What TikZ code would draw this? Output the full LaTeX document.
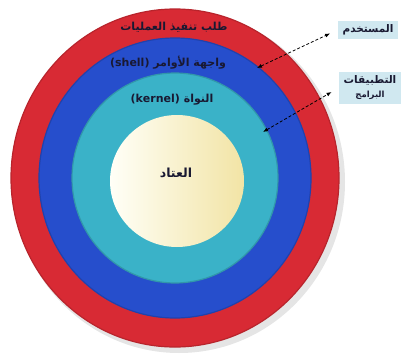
\documentclass[tikz,border=0pt]{standalone}
\usepackage{fontspec}
\usepackage{tikz}
\usetikzlibrary{arrows.meta}
\TeXXeTstate=1
\newfontfamily\arabicfont[Script=Arabic]{DejaVu Sans}

\definecolor{ringred}{RGB}{216,42,52}
\definecolor{ringblue}{RGB}{38,78,204}
\definecolor{ringcyan}{RGB}{58,178,200}
\definecolor{hwcream}{RGB}{242,228,165}
\definecolor{boxblue}{RGB}{208,232,240}
\definecolor{inkdark}{RGB}{25,25,50}

\begin{document}
\begin{tikzpicture}[x=1pt,y=-1pt,
    ring/.style={draw=#1!85!black,line width=1.2pt,fill=#1},
    lbl/.style={font=\arabicfont\bfseries\fontsize{11}{13}\selectfont,text=inkdark},
    box/.style={fill=boxblue,inner xsep=5pt,inner ysep=4pt,font=\arabicfont\bfseries\fontsize{10.5}{12}\selectfont,text=inkdark,align=center},
    arr/.style={{Latex[length=5pt,width=4pt]}-{Latex[length=5pt,width=4pt]},densely dashed,line width=0.8pt,shorten >=8pt}]
    \useasboundingbox (0,0) rectangle (401,353);

    % rings, from outside in
    \fill[black!10] (179,182) ellipse [x radius=166, y radius=171];
    \filldraw[ring=ringred] (175,178) ellipse [x radius=164, y radius=169];
    \filldraw[ring=ringblue] (175,178) ellipse [x radius=136, y radius=140];
    \filldraw[ring=ringcyan] (175,178) ellipse [x radius=103, y radius=105];
    \shade[left color=white!97!yellow,right color=hwcream] (177,181) ellipse [x radius=67, y radius=66];

    \node[lbl] (req) at (174,27) {\beginR طلب تنفيذ العمليات\endR};
    \node[lbl] (shell) at (168,63) {\beginR واجهة الأوامر \beginL(shell)\endL\endR};
    \node[lbl] (kernel) at (172,100) {\beginR النواة \beginL(kernel)\endL\endR};
    \node[lbl,font=\arabicfont\bfseries\fontsize{12.5}{14}\selectfont] (hw) at (176,173) {\beginR العتاد\endR};

    \node[box] (user) at (368,30) {\beginR المستخدم\endR};
    \node[box] (apps) at (370,88) {\beginR التطبيقات\endR\\[2pt]{\fontsize{8.5}{10}\selectfont\beginR البرامج\endR}};

    \coordinate (shellpt) at (257,68);
    \coordinate (kernelpt) at (263,132);
    \draw[arr] (shellpt) -- (user.west);
    \draw[arr] (kernelpt) -- (apps.west);
\end{tikzpicture}
\end{document}
